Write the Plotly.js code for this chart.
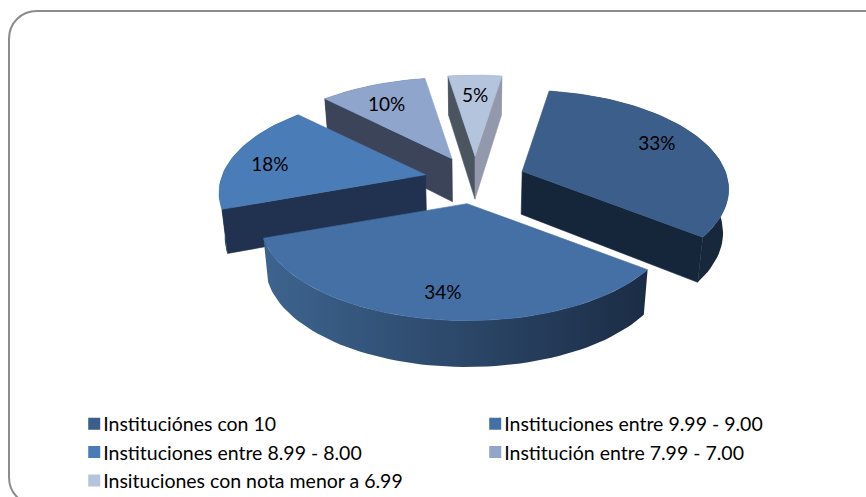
<!DOCTYPE html>
<html><head><meta charset="utf-8">
<script src="https://cdn.plot.ly/plotly-3.0.1.min.js"></script>
<style>
html,body{margin:0;padding:0;background:#fff}
#c{width:866px;height:497px;overflow:hidden}
.legend .legendpoints{transform:translateX(11px)}
</style></head><body><div id="c"></div>
<script>
const categories=["Instituciónes con 10","Instituciones entre 9.99 - 9.00","Instituciones entre 8.99 - 8.00","Institución entre 7.99 - 7.00","Insituciones con nota menor a 6.99"];
const values=[33,34,18,10,5];
const labels=["33%","34%","18%","10%","5%"];
const topColors=["#3b5e8a","#4570a6","#4a7db8","#8fa5cc","#b5c4dd"];
const startFaceColors=[null,null,"#20324f","#3b4459","#4a5560"];
const endFaceColors=["#16263a",null,null,null,"#9299ac"];
const wallColors=[["#16263a","#18283c"],["#3d648f","#1b2c45"],["#2a4a72","#20324f"],["#3b4459","#3b4459"],["#4a5560","#9299ac"]];
const drawOrder=[3,4,2,0,1];
const labelNudgeX=[5,2,-17,-6,0], labelNudgeY=[-2,12,6,3,2];

// view geometry
const cx=475,cy=180,R=203,A=95.7,K=0.182,H=43,WALLK=0.08,CONTRACT=0.022,EXPLODE=0.25,START=9,LABEL_F=0.72;
const toRad=d=>d*Math.PI/180;
const total=values.reduce((a,b)=>a+b,0);
let acc=START;
const slices=values.map(val=>{const a0=acc,a1=acc+val/total*360;acc=a1;
  const mid=toRad((a0+a1)/2);return {a0,a1,ax:cx+R*EXPLODE*Math.sin(mid),ay:cy-A*EXPLODE*Math.cos(mid)};});
function proj(sl,u,v,z){const s=1/(1-K*v);const x=sl.ax+R*u*s;
  return [cx+(x-cx)*(1-CONTRACT*z), sl.ay+A*v*s+z*H*(1+WALLK*v)];}
function rim(sl,z){const pts=[];const n=Math.ceil((sl.a1-sl.a0)/2);
  for(let i=0;i<=n;i++){const t=toRad(sl.a0+(sl.a1-sl.a0)*i/n);
    pts.push(proj(sl,Math.sin(t),-Math.cos(t),z));}return pts;}
function poly(pts,color,grad){const t={type:"scatter",mode:"lines",x:pts.map(p=>p[0]).concat(pts[0][0]),y:pts.map(p=>p[1]).concat(pts[0][1]),
  fill:"toself",line:grad?{width:0}:{width:0.6,color:color},hoverinfo:"skip",showlegend:false,fillcolor:color};
  if(grad){t.fillgradient={type:"horizontal",colorscale:[[0,grad[0]],[1,grad[1]]]};}
  return t;}
const traces=[];
drawOrder.forEach(i=>{const sl=slices[i];const top=rim(sl,0),bot=rim(sl,1);
  const ap0=proj(sl,0,0,0),ap1=proj(sl,0,0,1);
  traces.push(poly(top.concat(bot.slice().reverse()),wallColors[i][1],wallColors[i]));
  if(startFaceColors[i])traces.push(poly([ap0,top[0],bot[0],ap1],startFaceColors[i]));
  if(endFaceColors[i])traces.push(poly([ap0,top[top.length-1],bot[bot.length-1],ap1],endFaceColors[i]));
  traces.push(poly([ap0].concat(top),topColors[i]));
});
const lp=slices.map((sl,i)=>{const m=toRad((sl.a0+sl.a1)/2);
  return proj(sl,LABEL_F*Math.sin(m),-LABEL_F*Math.cos(m),0);});
traces.push({type:"scatter",mode:"text",x:lp.map((p,i)=>p[0]+labelNudgeX[i]),y:lp.map((p,i)=>p[1]+labelNudgeY[i]),text:labels,
  textposition:"middle center",textfont:{family:"Lato",size:19,color:"#000"},hoverinfo:"skip",showlegend:false});
categories.forEach((c,i)=>traces.push({type:"scatter",mode:"markers",x:[null],y:[null],name:c,
  marker:{symbol:"square",size:12,color:topColors[i]},showlegend:true,hoverinfo:"skip"}));
const layout={width:866,height:497,margin:{l:0,r:0,t:0,b:0,autoexpand:false},paper_bgcolor:"#fff",plot_bgcolor:"#fff",
  xaxis:{range:[0,866],visible:false,fixedrange:true},yaxis:{range:[497,0],visible:false,fixedrange:true},
  showlegend:true,
  legend:{orientation:"h",x:0.073,y:0.186,xanchor:"left",yanchor:"top",entrywidth:356,entrywidthmode:"pixels",
    font:{family:"Lato",size:19.5,color:"#000"},bgcolor:"rgba(0,0,0,0)",traceorder:"normal"},
  shapes:[{type:"path",xref:"x",yref:"y",path:"M 880 11 L 37 11 C 21 11 9 23 9 39 L 9 477 C 9 493 21 505 37 505 L 880 505",
    line:{color:"#8c8c8c",width:2},fillcolor:"rgba(0,0,0,0)"}]};
Plotly.newPlot("c",traces,layout,{displayModeBar:false,staticPlot:true});
</script></body></html>
